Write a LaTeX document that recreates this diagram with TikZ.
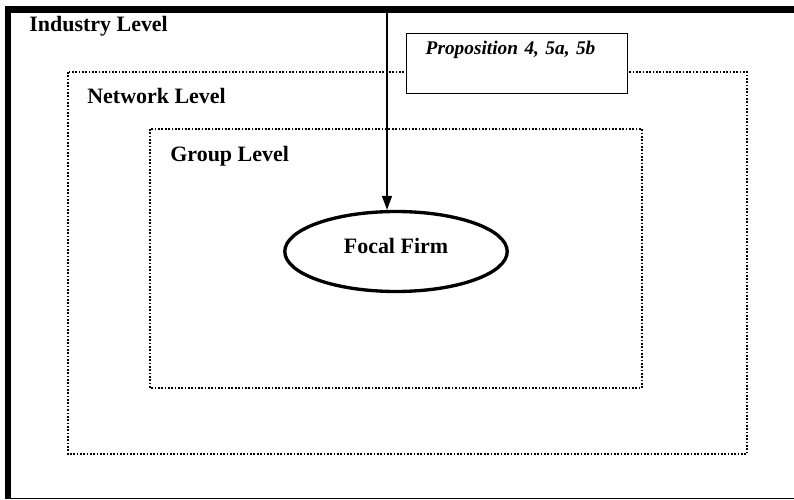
\documentclass[tikz,border=0pt]{standalone}
\usepackage{fontspec}
\setmainfont{Liberation Serif}
\usetikzlibrary{shapes.geometric,arrows.meta}

\begin{document}
\begin{tikzpicture}[x=0.02cm, y=-0.02cm,
    levelbox/.style={line width=0.95pt, dash pattern=on 0.95pt off 0.95pt},
    leveltext/.style={anchor=base west, inner sep=0pt, font=\fontsize{12.5}{15}\selectfont\bfseries},
    propbox/.style={draw, fill=white, line width=0.8pt, anchor=north west, inner xsep=0.38cm, inner ysep=0pt,
        text width=3.66cm, align=left, text height=0.42cm, text depth=0.78cm,
        font=\fontsize{11}{13}\selectfont\bfseries\itshape},
    firm/.style={draw, ellipse, line width=1.9pt, inner sep=0pt, minimum width=4.45cm, minimum height=1.6cm,
        text height=0.3cm, text depth=0.24cm, font=\fontsize{12.5}{15}\selectfont\bfseries}]
    \useasboundingbox (0,0) rectangle (794,500);

    % industry level frame
    \draw[line width=3.7pt] (5,9.5) -- (794,9.5);
    \draw[line width=3.4pt] (8,6) -- (8,498.5);
    \draw[line width=0.75pt] (8,498.5) -- (794,498.5);
    \node[leveltext] (industry) at (29,32) {Industry Level};

    % network level
    \draw[levelbox] (68,72) rectangle (747,454);
    \node[leveltext] (network) at (87,104) {Network Level};

    % group level
    \draw[levelbox] (150,129) rectangle (642,388);
    \node[leveltext] (group) at (170,161) {Group Level};

    \node[propbox] (prop) at (406,33) {Proposition 4, 5a, 5b};

    \node[firm] (focal) at (396,251.5) {Focal Firm};

    \coordinate (src) at (387,9.5);
    \draw[line width=0.8pt, -{Triangle[width=0.2cm, length=0.28cm]}] (src) -- (src |- focal.north);
\end{tikzpicture}
\end{document}
